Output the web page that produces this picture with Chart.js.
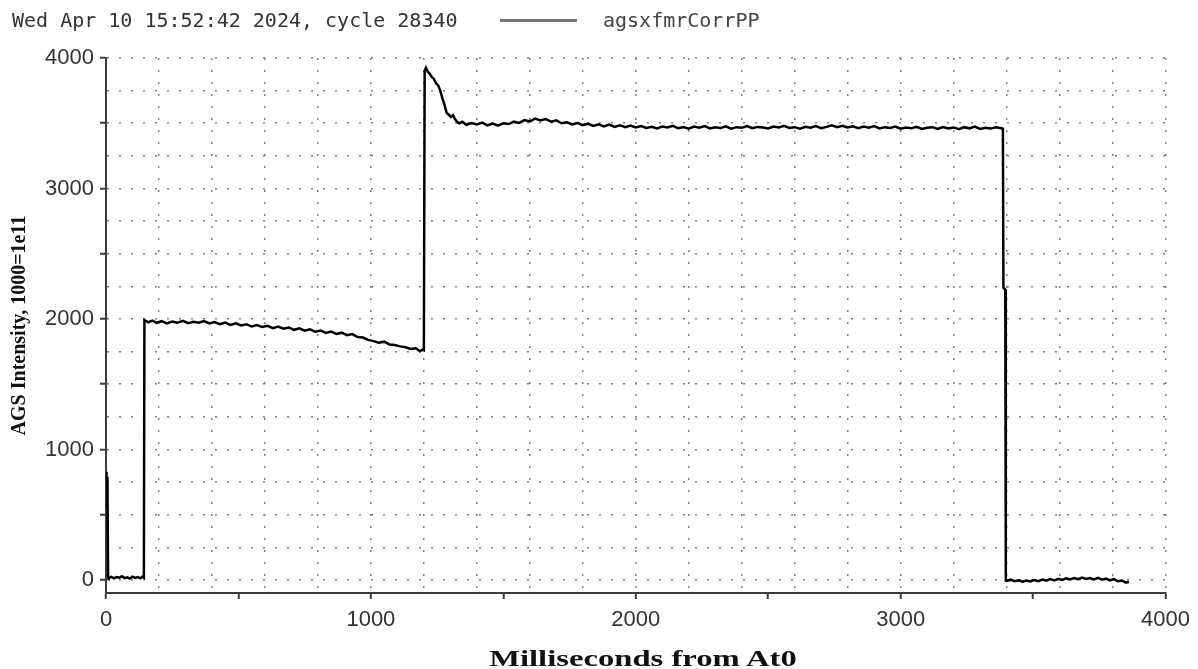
<!DOCTYPE html>
<html>
<head>
<meta charset="utf-8">
<script src="https://cdn.jsdelivr.net/npm/chart.js@4"></script>
<style>
  html, body { margin: 0; padding: 0; background: #fff; }
  #wrap { position: relative; width: 1198px; height: 669px; overflow: hidden; background: #fff; }
  #c { position: absolute; left: 0; top: 0; }
  .mono { position: absolute; font-family: 'DejaVu Sans Mono', monospace; font-size: 20px; line-height: 20px; color: #333; white-space: nowrap; }
  #hdr { left: 12px; top: 10px; }
  #legText { left: 603px; top: 10px; color: #444; }
  #legLine { position: absolute; left: 500px; top: 19px; width: 77px; height: 3px; background: #777; }
  #xTitle { position: absolute; left: 643px; top: 646px; font-family: 'Liberation Serif', 'Times New Roman', serif; font-weight: bold; font-size: 24px; line-height: 24px; color: #111; white-space: nowrap; transform: translateX(-50%) scaleX(1.36); }
</style>
</head>
<body>
<div id="wrap">
  <canvas id="c" width="1198" height="669"></canvas>
  <div id="hdr" class="mono">Wed Apr 10 15:52:42 2024, cycle 28340</div>
  <div id="legLine"></div>
  <div id="legText" class="mono">agsxfmrCorrPP</div>
  <div id="xTitle">Milliseconds from At0</div>
</div>
<script>
// ---- Data (ms from At0, intensity) ----
const seriesName = 'agsxfmrCorrPP';
const headerText = 'Wed Apr 10 15:52:42 2024, cycle 28340';

const spikeSeg = [[0,830],[1,560],[2,820],[3,600],[4,790],[5,570],[6,760],[8,20]];

const preBeamSeg = [[10,15],[20,24],[30,12],[40,22],[50,18],[60,28],[70,14],[80,20],[90,10],[100,25],[110,16],[120,22],[130,12],[138,26],[143,18]];

const firstPlateau = [[145,1992],[160,1975],[175,1988],[190,1970],[210,1983],[230,1966],[250,1980],[270,1972],[290,1986],[310,1968],[330,1979],[350,1971],[370,1984],[390,1966],[410,1976],[430,1960],[450,1972],[470,1955],[490,1966],[510,1950],[530,1960],[550,1942],[570,1954],[590,1938],[610,1948],[630,1930],[650,1942],[670,1925],[690,1935],[710,1917],[730,1928],[750,1910],[770,1921],[790,1902],[810,1912],[830,1893],[850,1904],[870,1885],[890,1895],[910,1876],[930,1884],[950,1862],[970,1858],[990,1840],[1010,1830],[1030,1818],[1050,1826],[1070,1805],[1090,1800],[1110,1790],[1130,1784],[1150,1770],[1170,1776],[1185,1752],[1195,1765]];

const secondPlateau = [[1200,1760],[1203,3900],[1208,3925],[1215,3895],[1222,3880],[1230,3855],[1238,3840],[1246,3805],[1254,3790],[1262,3750],[1270,3690],[1278,3640],[1286,3580],[1294,3565],[1302,3548],[1310,3562],[1318,3530],[1326,3510],[1334,3500],[1345,3512],[1360,3488],[1380,3502],[1400,3490],[1420,3505],[1440,3484],[1460,3497],[1480,3482],[1500,3500],[1520,3494],[1540,3512],[1560,3503],[1580,3524],[1600,3514],[1620,3536],[1640,3521],[1660,3532],[1680,3512],[1700,3522],[1720,3500],[1740,3507],[1760,3491],[1780,3502],[1800,3486],[1820,3496],[1840,3480],[1860,3491],[1880,3476],[1900,3489],[1920,3472],[1940,3485],[1960,3470],[1980,3483],[2000,3468],
[2020,3478],[2040,3464],[2060,3472],[2080,3460],[2100,3475],[2120,3467],[2140,3480],[2160,3462],[2180,3470],[2200,3458],[2220,3474],[2240,3466],[2260,3478],[2280,3460],[2300,3469],[2320,3463],[2340,3476],[2360,3458],[2380,3470],[2400,3465],[2420,3479],[2440,3462],[2460,3472],[2480,3467],[2500,3460],[2520,3475],[2540,3468],[2560,3481],[2580,3464],[2600,3470],[2620,3459],[2640,3473],[2660,3466],[2680,3478],[2700,3462],[2720,3472],[2740,3484],[2760,3470],[2780,3480],[2800,3467],[2820,3476],[2840,3462],[2860,3474],[2880,3466],[2900,3478],[2920,3460],[2940,3470],[2960,3463],[2980,3474],[3000,3458],[3020,3468],[3040,3461],[3060,3473],[3080,3456],[3100,3466],[3120,3470],[3140,3457],[3160,3471],[3180,3460],[3200,3468],[3220,3455],[3240,3470],[3260,3461],[3280,3474],[3300,3457],[3320,3466],[3340,3459],[3360,3469],[3380,3461]];

const dumpSeg = [[3386,3458],[3388,2240],[3395,2225],[3397,-5]];

const afterDump = [[3400,-8],[3415,2],[3430,-10],[3445,-2],[3460,-14],[3475,-4],[3490,-12],[3505,0],[3520,-9],[3535,3],[3550,-6],[3565,6],[3580,-3],[3595,8],[3610,0],[3625,12],[3640,4],[3655,15],[3670,6],[3685,18],[3700,8],[3715,14],[3730,4],[3745,16],[3760,2],[3775,10],[3790,-4],[3805,6],[3820,-10],[3835,-4],[3850,-20],[3862,-14]];

// Axis tick / grid values
const xTickValues = [0,200,400,500,600,800,1000,1200,1400,1500,1600,1800,2000,2200,2400,2500,2600,2800,3000,3200,3400,3500,3600,3800,4000];
const yTickValues = [-100,0,250,500,750,1000,1250,1500,1750,2000,2250,2500,2750,3000,3250,3500,3750,4000];
const xLabelValues = [0,1000,2000,3000,4000];
const yLabelValues = [0,1000,2000,3000,4000];
const xGridStep = 200, yGridStep = 250, tickMarkStep = 500;

const points = [...spikeSeg, ...preBeamSeg, ...firstPlateau, ...secondPlateau, ...dumpSeg, ...afterDump]
  .map(([x, y]) => ({ x, y }));

const CLEAR = 'rgba(0,0,0,0)';
const GRID = '#808080';
const AXIS = '#3c3c3c';
const tickFont = { family: "'Liberation Sans', Arial, sans-serif", size: 22 };

new Chart(document.getElementById('c'), {
  type: 'line',
  data: {
    datasets: [{
      label: seriesName,
      data: points,
      borderColor: '#000',
      borderWidth: 2.5,
      pointRadius: 0,
      tension: 0,
      fill: false
    }]
  },
  options: {
    responsive: false,
    animation: false,
    devicePixelRatio: 1,
    layout: { padding: { top: 58, right: 30, left: 0, bottom: 0 } },
    plugins: { legend: { display: false }, tooltip: { enabled: false }, title: { display: false } },
    scales: {
      x: {
        type: 'linear', min: 0, max: 4000,
        afterBuildTicks: axis => { axis.ticks = xTickValues.map(v => ({ value: v })); },
        afterFit: axis => { axis.height = 76; },
        ticks: {
          autoSkip: false, maxRotation: 0, minRotation: 0, padding: 8,
          color: '#333', font: tickFont,
          callback: v => xLabelValues.includes(v) ? String(v) : ''
        },
        grid: {
          color: ctx => (ctx.tick && ctx.tick.value % xGridStep === 0 && ctx.tick.value > 0) ? GRID : CLEAR,
          lineWidth: 1.5,
          tickColor: ctx => (ctx.tick && ctx.tick.value % tickMarkStep === 0) ? AXIS : CLEAR,
          tickLength: 6,
          tickWidth: 2,
          tickBorderDash: []
        },
        border: { color: AXIS, width: 2, dash: [2, 10] },
        title: { display: false }
      },
      y: {
        type: 'linear', min: -100, max: 4000,
        afterBuildTicks: axis => { axis.ticks = yTickValues.map(v => ({ value: v })); },
        afterFit: axis => { axis.width = 106; },
        ticks: {
          autoSkip: false, padding: 6,
          color: '#333', font: tickFont,
          callback: v => yLabelValues.includes(v) ? String(v) : ''
        },
        grid: {
          color: ctx => (ctx.tick && ctx.tick.value % yGridStep === 0 && ctx.tick.value >= 0) ? GRID : CLEAR,
          lineWidth: 1.5,
          tickColor: ctx => (ctx.tick && ctx.tick.value >= 0 && ctx.tick.value % tickMarkStep === 0) ? AXIS : CLEAR,
          tickLength: 6,
          tickWidth: 2,
          tickBorderDash: []
        },
        border: { color: AXIS, width: 2, dash: [2, 10] },
        title: {
          display: true,
          text: 'AGS Intensity, 1000=1e11',
          color: '#111',
          font: { family: "'Liberation Serif', 'Times New Roman', serif", size: 20, weight: 'bold', lineHeight: 1.2 },
          padding: { top: 8, bottom: 0 }
        }
      }
    }
  }
});
</script>
</body>
</html>
